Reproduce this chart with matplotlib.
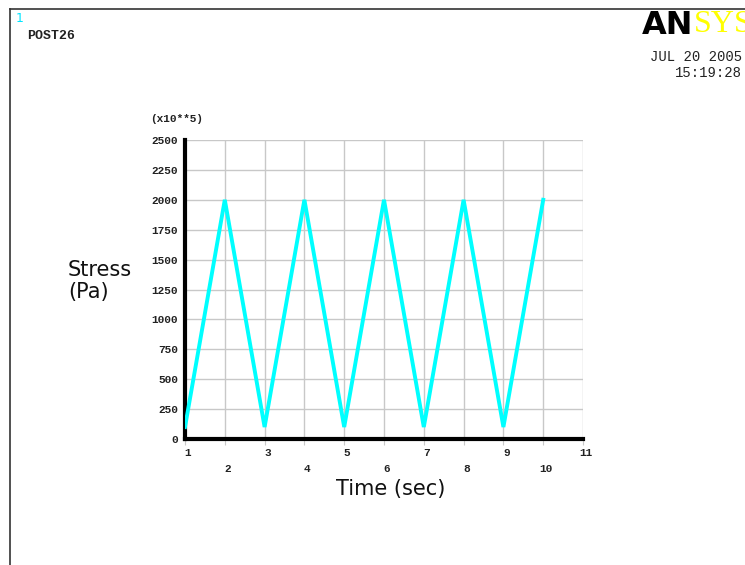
import matplotlib.pyplot as plt
from matplotlib.lines import Line2D

# Stress history (x10**5 Pa) at each time step
time_sec = [1, 2, 3, 4, 5, 6, 7, 8, 9, 10]
stress = [100, 2000, 100, 2000, 100, 2000, 100, 2000, 100, 2000]

x_ticks = [1, 2, 3, 4, 5, 6, 7, 8, 9, 10, 11]
y_ticks = [0, 250, 500, 750, 1000, 1250, 1500, 1750, 2000, 2250, 2500]

mono = "Liberation Mono"

fig = plt.figure(figsize=(7.45, 5.65), dpi=100)
fig.patch.set_facecolor("white")

# outer window frame
fig.add_artist(Line2D([10 / 745, 1.0], [1 - 9 / 565, 1 - 9 / 565], color="#333333", lw=1.2))
fig.add_artist(Line2D([10 / 745, 10 / 745], [0, 1 - 9 / 565], color="#333333", lw=1.2))

# header texts
fig.text(16 / 745, 1 - 18 / 565, "1", color="#00e5ff", fontsize=9, va="center", ha="left")
fig.text(27 / 745, 1 - 36 / 565, "POST26", family=mono, fontsize=9.5, weight="bold",
         color="#222222", va="center", ha="left")
fig.text(642 / 745, 1 - 25 / 565, "AN", fontsize=23, weight="heavy", color="black",
         va="center", ha="left", family="DejaVu Sans")
fig.text(694 / 745, 1 - 25 / 565, "SYS", fontsize=23, color="#ffff00",
         va="center", ha="left", family="Liberation Serif")
fig.text(742 / 745, 1 - 57 / 565, "JUL 20 2005", family=mono, fontsize=10,
         color="#222222", va="center", ha="right")
fig.text(742 / 745, 1 - 73 / 565, "15:19:28", family=mono, fontsize=10,
         color="#222222", va="center", ha="right")

ax = fig.add_axes([185 / 745, 126 / 565, 398 / 745, 299 / 565])
ax.set_xlim(1, 11)
ax.set_ylim(0, 2500)

ax.plot(time_sec, stress, color="#00ffff", lw=2.8, solid_joinstyle="miter", zorder=3)

ax.set_xticks(x_ticks)
ax.set_yticks(y_ticks)
ax.grid(True, color="#c8c8c8", lw=1.0)
ax.set_axisbelow(True)

for side in ["top", "right"]:
    ax.spines[side].set_visible(False)
for side in ["left", "bottom"]:
    ax.spines[side].set_linewidth(3)
    ax.spines[side].set_color("black")

ax.tick_params(axis="y", length=0, pad=5, labelsize=8)
ax.tick_params(axis="x", length=4, color="#c8c8c8", labelsize=8, pad=0)
ax.set_yticklabels([str(v) for v in y_ticks], family=mono, weight="bold", color="#222222")
ax.set_xticklabels([])

# staggered x labels: odd steps high, even steps low
for t in x_ticks:
    off = 14 if t % 2 == 1 else 30
    ax.annotate(str(t), (t, 0), xytext=(3, -off), textcoords="offset pixels",
                ha="center", va="center", family=mono, weight="bold", fontsize=8,
                color="#222222", annotation_clip=False)

ax.text(150 / 745, 1 - 119 / 565, "(x10**5)", transform=fig.transFigure, family=mono,
        fontsize=8, weight="bold", color="#222222", ha="left", va="center")

fig.text(68 / 745, 1 - 270 / 565, "Stress", fontsize=15, ha="left", va="center",
         family="DejaVu Sans", color="#111111")
fig.text(68 / 745, 1 - 292 / 565, "(Pa)", fontsize=15, ha="left", va="center",
         family="DejaVu Sans", color="#111111")
fig.text(391 / 745, 1 - 489 / 565, "Time (sec)", fontsize=15, ha="center", va="center",
         family="DejaVu Sans", color="#111111")

fig.savefig("out.png", dpi=100, facecolor="white")
